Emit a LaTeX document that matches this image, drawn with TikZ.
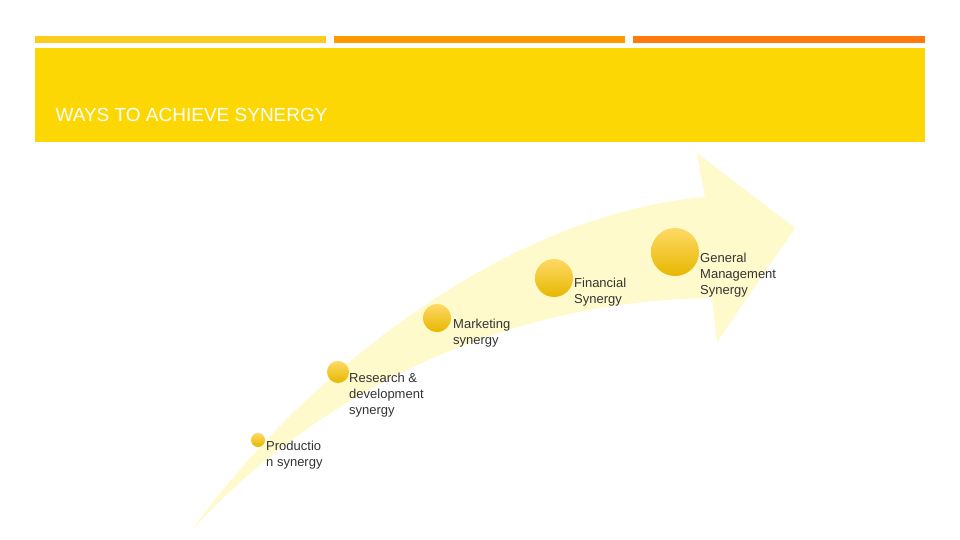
\documentclass[tikz,border=0pt]{standalone}
\usepackage{fontspec}
\setmainfont{Liberation Sans}
\begin{document}
\begin{tikzpicture}[x=1pt,y=-1pt,
  lbl/.style={anchor=north west,inner sep=0pt,font=\fontsize{13}{16}\selectfont,text=black!80,align=left},
  ball/.style={circle,inner sep=0pt,top color=yellow!50!orange!60,bottom color=yellow!60!orange!90!black,draw=none}]
\useasboundingbox (0,0) rectangle (960,540);
\fill[white] (0,0) rectangle (960,540);
\fill[yellow!60!orange!90] (35,36) rectangle (326,43);
\fill[orange!80!yellow] (334,36) rectangle (625,43);
\fill[orange!90!red!95] (633,36) rectangle (925,43);
\fill[yellow!75!orange] (35,48) rectangle (925,142);
\node[anchor=west,text=white,font=\fontsize{19}{22}\selectfont] (title) at (52,115) {WAYS TO ACHIEVE SYNERGY};
\fill[orange!20!yellow!20] (192,530) .. controls (300,380) and (500,215) .. (705,197)
  -- (697,153) -- (795,228) -- (717,342) -- (712,298)
  .. controls (520,300) and (330,380) .. (192,530) -- cycle;
\node[ball,minimum size=14] (b1) at (258,440) {};
\node[ball,minimum size=22] (b2) at (338,372) {};
\node[ball,minimum size=28] (b3) at (437,318) {};
\node[ball,minimum size=38] (b4) at (554,278) {};
\node[ball,minimum size=48] (b5) at (675,252) {};
\node[lbl] (t1) at (266,441) {Productio\\n synergy};
\node[lbl] (t2) at (349,373) {Research \&\\development\\synergy};
\node[lbl] (t3) at (453,319) {Marketing\\synergy};
\node[lbl] (t4) at (574,278) {Financial\\Synergy};
\node[lbl] (t5) at (700,253) {General\\Management\\Synergy};
\end{tikzpicture}
\end{document}
